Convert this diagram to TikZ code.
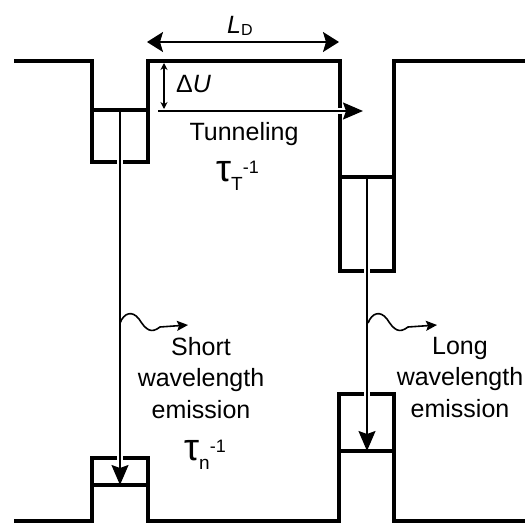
\documentclass[tikz,border=0pt]{standalone}
\usepackage{fontspec}
\setmainfont{Liberation Sans}
\usetikzlibrary{arrows.meta}
\newcommand{\lowpart}[1]{\raisebox{-9pt}{\fontsize{19}{19}\selectfont #1}}
\newcommand{\highpart}[1]{\raisebox{8pt}{\fontsize{18}{18}\selectfont #1}}
\newcommand{\taufont}{\fontsize{38}{38}\selectfont}

\begin{document}
\begin{tikzpicture}[x=1pt, y=-1pt,
    band/.style={line width=3.4pt, line join=miter},
    level/.style={line width=3.4pt},
    gap/.style={white, line width=6pt},
    trans/.style={line width=1.6pt, -{Stealth[length=20pt, width=17pt, inset=3pt]}},
    span/.style={line width=1.6pt, {Stealth[length=16pt, width=20pt, inset=3pt]}-{Stealth[length=16pt, width=20pt, inset=3pt]}},
    photon/.style={line width=1.6pt, -{Stealth[length=11pt, width=10pt, inset=2pt]}},
    label/.style={font=\fontsize{25}{31.5}\selectfont, inner sep=0pt}]
  \useasboundingbox (0,0) rectangle (531,527);
  % conduction band and valence band
  \draw[band] (14,61) -- (92,61) -- (92,162) -- (148,162) -- (148,61) -- (340,61)
    -- (340,271) -- (394,271) -- (394,61) -- (525,61);
  \draw[band] (14,521) -- (92,521) -- (92,458) -- (148,458) -- (148,521) -- (339,521)
    -- (339,394) -- (394,394) -- (394,521) -- (525,521);
  % levels
  \draw[level] (92,110) -- (148,110);
  \draw[level] (340,177) -- (394,177);
  \draw[level] (92,485) -- (148,485);
  \draw[level] (339,451) -- (394,451);
  % end points of the transitions
  \coordinate (cleft) at (120,110);
  \coordinate (vleft) at (120,485);
  \coordinate (cright) at (367,177);
  \coordinate (vright) at (367,451);
  \coordinate (tstart) at (158,111);
  \coordinate (tend) at (363,111);
  % small breaks where thin lines cross the bands
  \draw[gap] (120,152) -- (120,172);
  \draw[gap] (120,448) -- (120,468);
  \draw[gap] (367,261) -- (367,281);
  \draw[gap] (367,384) -- (367,404);
  \draw[gap] (333,111) -- (347,111);
  \draw[trans] (cleft) -- (vleft);
  \draw[trans] (cright) -- (vright);
  \draw[trans] (tstart) -- (tend);
  % widths
  \coordinate (ldleft) at (147,42);
  \coordinate (ldright) at (339,42);
  \coordinate (dutop) at (164,63);
  \coordinate (dubottom) at (164,109);
  \draw[span] (ldleft) -- (ldright);
  \draw[line width=1.6pt, {Stealth[length=7pt, width=7pt]}-{Stealth[length=7pt, width=7pt]}] (dutop) -- (dubottom);
  % photons
  \draw[photon] (120,323) .. controls (124,313) and (132,310) .. (139,319)
    .. controls (146,330) and (151,334) .. (160,327) -- (188,325);
  \draw[photon] (368,323) .. controls (372,313) and (380,310) .. (387,319)
    .. controls (394,330) and (399,334) .. (408,327) -- (437,325);
  % labels
  \node[label, anchor=base west] (ldlabel) at (227,34) {\textit{L}\raisebox{-2pt}{\fontsize{16}{16}\selectfont D}};
  \node[label, anchor=base west] (dulabel) at (176,93) {Δ\textit{U}};
  \node[label, anchor=base] (tunlabel) at (244,140) {Tunneling};
  \node[label, anchor=base west] (taut) at (216,182) {\taufont τ\lowpart{T}\highpart{-1}};
  \node[label, align=center, anchor=base] (shortem) at (201,418) {Short\\wavelength\\emission};
  \node[label, anchor=base west] (taun) at (184,460) {\taufont τ\lowpart{n}\highpart{-1}};
  \node[label, align=center, anchor=base] (longem) at (460,417) {Long\\wavelength\\emission};
\end{tikzpicture}
\end{document}
